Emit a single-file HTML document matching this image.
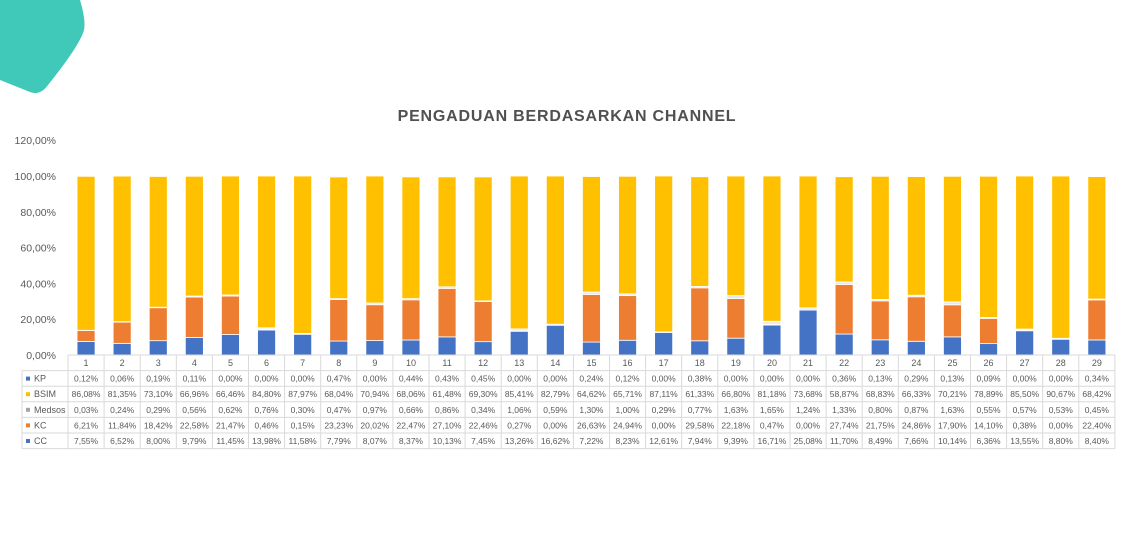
<!DOCTYPE html>
<html><head><meta charset="utf-8"><style>
body{margin:0;width:1134px;height:540px;background:#fff;overflow:hidden;font-family:"Liberation Sans",sans-serif}
svg text{font-family:"Liberation Sans",sans-serif}
</style></head><body>
<svg width="1134" height="540">
<path d="M0,0 L80,0 Q86,20 84,30 Q80,45 48,85 Q40,96 30,92 L0,80 Z" fill="#40c8b8"/>
<text x="567" y="121" text-anchor="middle" font-size="16" font-weight="bold" fill="#505050" letter-spacing="0.8">PENGADUAN BERDASARKAN CHANNEL</text>
<g id="g"></g>
</svg>
<script>
const cats=[1,2,3,4,5,6,7,8,9,10,11,12,13,14,15,16,17,18,19,20,21,22,23,24,25,26,27,28,29];
const KP=[0.12,0.06,0.19,0.11,0,0,0,0.47,0,0.44,0.43,0.45,0,0,0.24,0.12,0,0.38,0,0,0,0.36,0.13,0.29,0.13,0.09,0,0,0.34];
const BSIM=[86.08,81.35,73.10,66.96,66.46,84.80,87.97,68.04,70.94,68.06,61.48,69.30,85.41,82.79,64.62,65.71,87.11,61.33,66.80,81.18,73.68,58.87,68.83,66.33,70.21,78.89,85.50,90.67,68.42];
const Medsos=[0.03,0.24,0.29,0.56,0.62,0.76,0.30,0.47,0.97,0.66,0.86,0.34,1.06,0.59,1.30,1.00,0.29,0.77,1.63,1.65,1.24,1.33,0.80,0.87,1.63,0.55,0.57,0.53,0.45];
const KC=[6.21,11.84,18.42,22.58,21.47,0.46,0.15,23.23,20.02,22.47,27.10,22.46,0.27,0,26.63,24.94,0,29.58,22.18,0.47,0,27.74,21.75,24.86,17.90,14.10,0.38,0,22.40];
const CC=[7.55,6.52,8.00,9.79,11.45,13.98,11.58,7.79,8.07,8.37,10.13,7.45,13.26,16.62,7.22,8.23,12.61,7.94,9.39,16.71,25.08,11.70,8.49,7.66,10.14,6.36,13.55,8.80,8.40];
const yTicks=[0,20,40,60,80,100,120];
const series=[["KP",KP,"#4472c4","#7f9fcf"],["BSIM",BSIM,"#ffc000","#ffc000"],["Medsos",Medsos,"#a5a5a5","#e8e8e8"],["KC",KC,"#ed7d31","#ed7d31"],["CC",CC,"#4472c4","#4472c4"]];
const stackOrder=["CC","KC","Medsos","BSIM","KP"];
const NS="http://www.w3.org/2000/svg",g=document.getElementById('g');
const x0=68,cw=36.1,y0=355,yScale=v=>y0-v*(355-176)/100;
const xc=i=>x0+cw*(i+0.5);
function el(t,a,p){const e=document.createElementNS(NS,t);for(const k in a)e.setAttribute(k,a[k]);(p||g).appendChild(e);return e;}
yTicks.forEach(t=>{const tx=el('text',{x:56,y:yScale(t)+4,'text-anchor':'end','font-size':10.5,fill:'#595959'});tx.textContent=t.toFixed(2).replace('.',',')+'%';

});
cats.forEach((c,i)=>{let acc=0;stackOrder.forEach(n=>{const s=series.find(q=>q[0]==n);const v=s[1][i];
const r=el('rect',{x:xc(i)-9,y:yScale(acc+v),width:18,height:Math.max(0,yScale(acc)-yScale(acc+v)),fill:s[3],stroke:'#fff','stroke-width':0.8});

acc+=v;});});
const tl=22,tr=x0+cw*29,rh=15.6,ty=355;
for(let r=0;r<=6;r++){const y=ty+r*rh;el('line',{x1:r==0?x0:tl,y1:y,x2:tr,y2:y,stroke:'#d9d9d9'});}
for(let i=0;i<=29;i++)el('line',{x1:x0+cw*i,y1:ty,x2:x0+cw*i,y2:ty+6*rh,stroke:'#d9d9d9'});
el('line',{x1:tl,y1:ty+rh,x2:tl,y2:ty+6*rh,stroke:'#d9d9d9'});
cats.forEach((c,i)=>{const t=el('text',{x:xc(i),y:ty+11,'text-anchor':'middle','font-size':9,fill:'#595959'});t.textContent=c;

});
series.forEach((s,r)=>{const y=ty+(r+1)*rh;
el('rect',{x:tl+4,y:y+6,width:4,height:4,fill:s[2]});
const l=el('text',{x:tl+12,y:y+11,'font-size':9,fill:'#595959'});l.textContent=s[0];


s[1].forEach((v,i)=>{const t=el('text',{x:xc(i),y:y+11,'text-anchor':'middle','font-size':8.5,fill:'#595959'});t.textContent=v.toFixed(2).replace('.',',')+'%';

});});
</script>
</body></html>
